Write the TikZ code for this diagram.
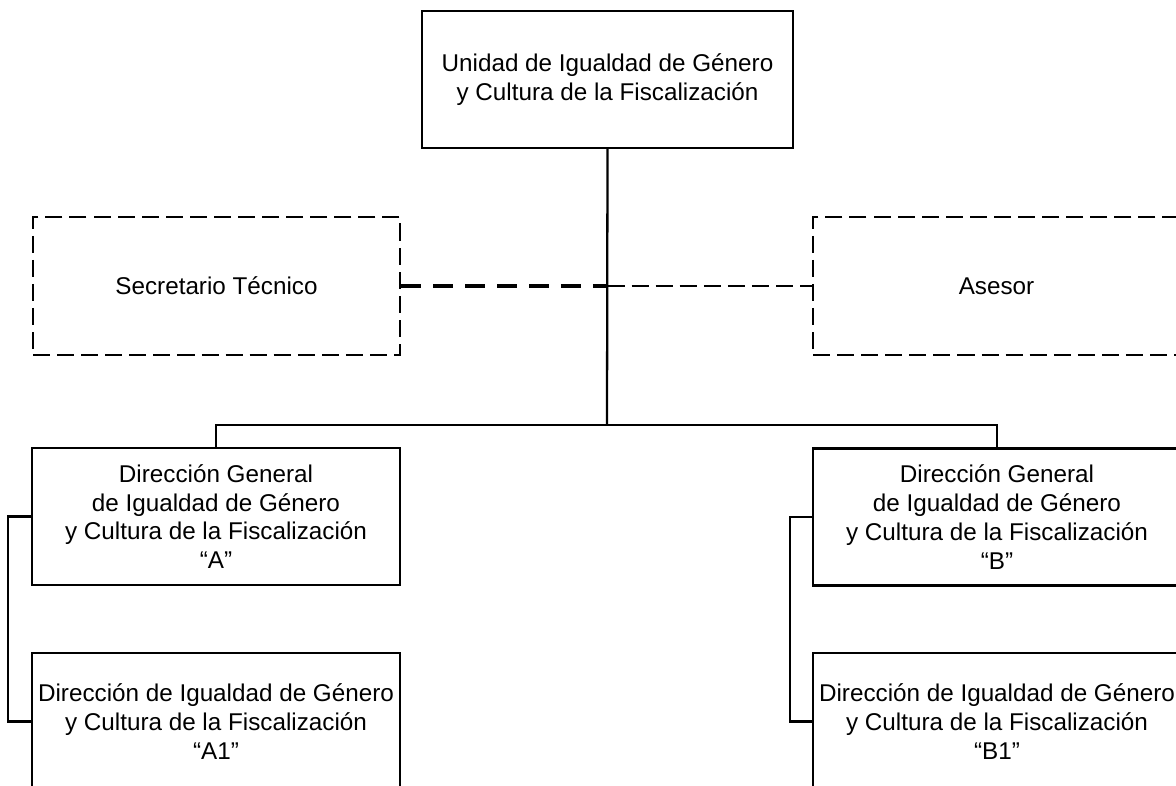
\documentclass[tikz,border=0pt]{standalone}
\usepackage{fontspec}
\setmainfont{Liberation Sans}
\usepackage{tikz}
\usetikzlibrary{positioning,calc}

\begin{document}
\begin{tikzpicture}[
  x=0.02cm, y=-0.02cm,
  font=\fontsize{13.8}{16.4}\selectfont,
  unit/.style={draw, line width=1.3pt, align=center, minimum width=7.36cm, minimum height=2.74cm, inner sep=0pt},
  aux/.style={unit, dash pattern=on 9.7pt off 4pt},
  link/.style={line width=1.3pt},
  thickdash/.style={line width=2pt, dash pattern=on 11.4pt off 6.8pt},
  thindash/.style={line width=1.3pt, dash pattern=on 9.7pt off 4pt}
]
% Page is 1176x786 px at 0.02cm per px; the right-hand boxes and the
% bottom row run past the page edge in the source, so the frame clips them.
\useasboundingbox (0,0) rectangle (1176,786);
\clip (0,0) rectangle (1176,786);

\node[unit, minimum width=7.42cm] (udg) at (607.5,79.5) {Unidad de Igualdad de Género\\y Cultura de la Fiscalización};

\node[aux, minimum width=7.34cm, minimum height=2.76cm] (sec) at (216.5,286) {Secretario Técnico};
\node[aux, minimum width=7.34cm, minimum height=2.76cm] (ase) at (996.5,286) {Asesor};

\node[unit] (dga) at (216,516.5) {Dirección General\\de Igualdad de Género\\y Cultura de la Fiscalización\\``A''};
\node[unit] (dgb) at (997,517) {Dirección General\\de Igualdad de Género\\y Cultura de la Fiscalización\\``B''};

\node[unit] (da1) at (216,721.5) {Dirección de Igualdad de Género\\y Cultura de la Fiscalización\\``A1''};
\node[unit] (db1) at (997,721.5) {Dirección de Igualdad de Género\\y Cultura de la Fiscalización\\``B1''};

% trunk and branches
\coordinate (hub) at (udg.south |- sec.east);
\coordinate (bar) at (607,425);
\draw[link] (udg.south) -- (bar);
\draw[link] (dga.north) |- (bar) -| (dgb.north);

% staff positions
\draw[thickdash] (sec.east) -- (hub);
\draw[thindash] (hub) -- (ase.west);

% sub-units
\draw[link] (dga.west) -- ++(-23,0) |- (da1.west);
\draw[link] (dgb.west) -- ++(-22,0) |- (db1.west);
\end{tikzpicture}
\end{document}
